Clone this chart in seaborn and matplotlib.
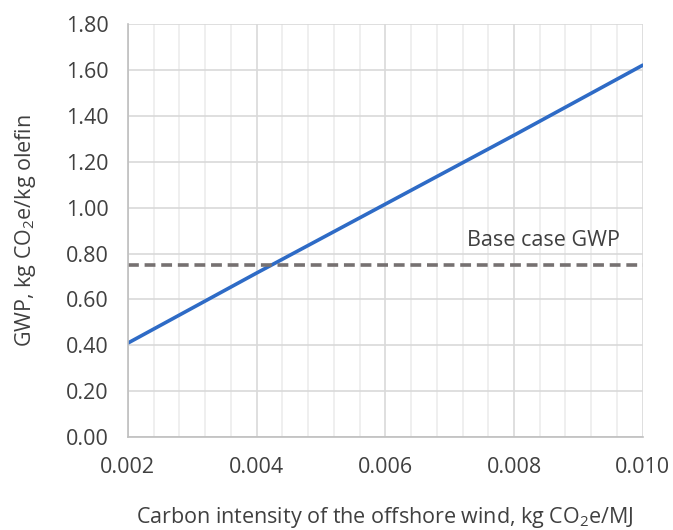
import numpy as np
import pandas as pd
import matplotlib
matplotlib.use("Agg")
import matplotlib.pyplot as plt
import seaborn as sns
from matplotlib.ticker import MultipleLocator

# Values
carbon_intensity = [0.002, 0.004, 0.006, 0.008, 0.010]
gwp = [0.41, 0.715, 1.015, 1.315, 1.62]
base_case_gwp = 0.75

df = pd.DataFrame({"ci": carbon_intensity, "gwp": gwp})

sns.set_theme(style="white")
plt.rcParams["font.family"] = ["Open Sans", "DejaVu Sans"]
plt.rcParams["mathtext.default"] = "regular"

fig, ax = plt.subplots(figsize=(6.73, 5.30), dpi=100)
fig.subplots_adjust(left=0.19, right=0.955, top=0.955, bottom=0.175)

sns.lineplot(data=df, x="ci", y="gwp", ax=ax, color="#2e6bc6", linewidth=2.6)
ax.plot([carbon_intensity[0], carbon_intensity[-1]], [base_case_gwp, base_case_gwp],
        color="#767171", linewidth=2.6, linestyle=(0, (3, 1.6)))
ax.text(0.00845, base_case_gwp + 0.06, "Base case GWP", ha="center", va="bottom",
        fontsize=15.5, color="#404040")

ax.set_xlim(0.002, 0.010)
ax.set_ylim(0, 1.80)
ax.xaxis.set_major_locator(MultipleLocator(0.002))
ax.xaxis.set_minor_locator(MultipleLocator(0.0004))
ax.set_xticklabels([f"{v:.3f}" for v in ax.get_xticks()])
ax.set_yticks(np.arange(0, 1.81, 0.2))
ax.set_yticklabels([f"{v:.2f}" for v in np.arange(0, 1.81, 0.2)])

ax.grid(which="major", axis="both", color="#d9d9d9", linewidth=1.2)
ax.grid(which="minor", axis="x", color="#ececec", linewidth=1.2)
ax.set_axisbelow(True)

for side in ["top", "right"]:
    ax.spines[side].set_visible(False)
for side in ["left", "bottom"]:
    ax.spines[side].set_color("#bfbfbf")
    ax.spines[side].set_linewidth(1.2)

ax.tick_params(which="both", length=0, labelsize=15.5, colors="#404040")
ax.tick_params(axis="y", pad=14)
ax.tick_params(axis="x", pad=14)
ax.set_xlabel("Carbon intensity of the offshore wind, kg CO$_2$e/MJ",
              fontsize=15.5, color="#404040", labelpad=20)
ax.set_ylabel("GWP, kg CO$_2$e/kg olefin", fontsize=15.5, color="#404040", labelpad=20)

plt.savefig("out.png", dpi=100)
